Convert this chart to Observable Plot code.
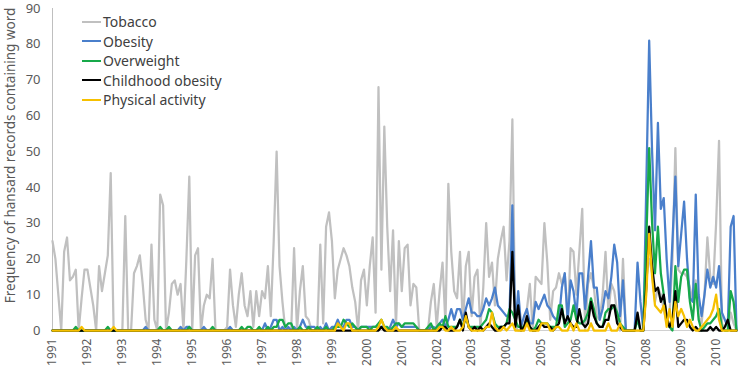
<!DOCTYPE html>
<html><head><meta charset="utf-8">
<script src="https://cdn.jsdelivr.net/npm/d3@7"></script>
<script src="https://cdn.jsdelivr.net/npm/@observablehq/plot@0.6"></script>
<style>
html,body{margin:0;padding:0;background:#fff;}
#chart{position:relative;width:754px;height:375px;font-family:"Noto Sans",sans-serif;}
.legend{position:absolute;left:82px;top:12px;font-size:14px;color:#404040;}
.legend .row{display:flex;align-items:center;height:19.5px;white-space:nowrap}
.legend .sw{display:inline-block;width:19px;height:0;border-top:2px solid;margin-right:2px}
</style></head><body><div id="chart"></div>
<script>
const years = [1991,1992,1993,1994,1995,1996,1997,1998,1999,2000,2001,2002,2003,2004,2005,2006,2007,2008,2009,2010];
const yTicks = [0,10,20,30,40,50,60,70,80,90];
const seriesNames = ["Tobacco","Obesity","Overweight","Childhood obesity","Physical activity"];
const seriesColors = ["#c0c0c0","#4a7fcb","#17a94a","#000000","#f6c000"];
const yLabel = "Frequency of hansard records containing word";

// monthly values, one row per year (Jan 1991 .. Aug 2010)
const tobacco = [
25,20,10,0,22,26,14,15,17,0,9,17,
17,12,7,0,18,11,16,21,44,0,0,0,
0,32,0,0,16,18,21,13,3,0,24,3,
0,38,35,0,5,13,14,10,13,0,20,43,
0,21,23,0,7,10,9,20,0,0,0,0,
1,17,7,1,10,16,7,4,11,1,11,4,
11,9,18,4,25,50,18,8,0,0,0,23,
0,11,18,4,3,0,0,0,24,2,29,33,
25,9,17,20,23,21,18,12,8,0,14,17,
7,18,26,5,68,17,57,29,11,28,1,25,
11,23,24,7,13,12,0,0,0,0,8,13,
1,11,19,2,41,22,11,9,22,1,18,22,
4,15,17,1,12,30,15,19,7,20,25,29,
14,25,59,1,0,0,0,6,13,0,15,14,
13,30,19,3,11,12,16,13,16,2,23,22,
10,22,34,0,13,16,12,4,3,10,22,5,
13,11,5,0,20,0,0,0,0,0,0,0,
20,20,16,8,12,10,6,2,5,20,51,17,
16,16,15,12,8,14,4,2,10,26,15,13,
30,53,2,0,0,5,2,0];

const obesity = [
0,0,0,0,0,0,0,0,0,0,0,0,
0,0,0,0,0,0,0,0,0,0,0,0,
0,0,0,0,0,0,0,0,1,0,0,0,
0,0,0,0,0,0,0,0,1,0,1,1,
0,0,0,0,1,0,0,0,0,0,0,0,
0,1,0,0,0,0,0,0,0,0,0,0,
0,2,0,1,3,3,0,1,0,1,0,1,
0,1,3,1,1,1,1,0,1,0,2,0,
1,1,3,1,1,3,3,1,1,0,1,1,
1,1,1,1,1,1,1,0,1,3,1,2,
1,1,1,1,1,1,0,0,0,0,1,1,
0,2,3,1,3,6,3,6,6,3,6,9,
5,5,4,4,6,9,7,9,12,7,6,5,
4,4,35,1,11,1,4,6,2,2,8,6,
8,10,7,6,4,3,3,12,16,3,14,11,
4,16,16,6,15,25,12,12,3,6,11,9,
15,24,19,4,14,0,0,0,0,19,8,0,
40,81,50,28,58,34,37,20,8,25,43,18,
27,36,20,9,8,38,10,4,10,17,12,15,
12,18,5,3,1,29,32,0];

const overweight = [
0,0,0,0,0,0,0,0,1,0,0,0,
0,0,0,0,0,0,0,1,0,0,0,0,
0,0,0,0,0,0,0,0,0,0,0,0,
0,1,0,0,1,0,0,0,0,0,0,1,
0,0,0,0,0,0,0,1,0,0,0,0,
0,0,0,0,0,1,0,1,1,0,0,1,
0,0,1,0,1,1,3,3,1,2,2,0,
0,1,0,0,1,0,0,1,0,0,1,0,
0,1,1,1,3,2,1,2,1,0,1,1,
1,0,1,1,2,3,1,1,0,1,2,2,
1,2,2,2,2,1,0,0,0,1,2,0,
1,2,1,4,1,1,1,1,3,1,4,1,
1,1,1,1,2,3,6,5,2,1,1,1,
2,6,5,3,1,1,1,3,1,0,1,3,
2,2,2,1,1,1,7,7,1,2,3,7,
3,2,2,3,5,9,6,2,1,1,5,6,
6,7,5,2,1,0,0,0,0,3,0,0,
25,51,30,16,29,16,10,3,1,0,18,8,
15,17,17,8,3,13,3,0,1,2,2,3,
4,6,1,0,0,11,8,0];

const childhood = [
0,0,0,0,0,0,0,0,0,0,0,0,
0,0,0,0,0,0,0,0,0,0,0,0,
0,0,0,0,0,0,0,0,0,0,0,0,
0,0,0,0,0,0,0,0,0,0,0,0,
0,0,0,0,0,0,0,0,0,0,0,0,
0,0,0,0,0,0,0,0,0,0,0,0,
0,0,0,0,0,0,0,0,0,0,0,0,
0,0,0,0,0,0,0,0,0,0,0,0,
0,0,0,0,0,0,0,0,0,0,0,0,
0,0,0,0,0,1,0,0,0,0,0,0,
0,0,0,0,0,0,0,0,0,0,0,0,
0,0,1,1,0,0,0,1,3,0,5,1,
0,1,0,1,0,1,2,1,0,0,1,1,
2,2,22,1,7,0,1,4,1,0,0,1,
2,1,1,1,0,1,2,6,2,4,2,1,
1,6,2,1,2,8,4,2,1,1,3,3,
7,7,2,1,0,0,0,0,0,5,0,0,
12,29,18,11,12,8,10,4,1,3,11,1,
2,3,3,1,0,1,0,0,0,0,1,0,
1,0,0,1,3,0,0,0];

const physical = [
0,0,0,0,0,0,0,0,0,0,1,0,
0,0,0,0,0,0,0,0,0,1,0,0,
0,0,0,0,0,0,0,0,0,0,0,0,
0,0,0,0,0,0,0,0,0,0,0,0,
0,0,0,0,0,0,0,0,0,0,0,0,
0,0,0,0,0,0,0,0,0,0,0,0,
0,0,0,0,0,0,0,0,0,0,0,0,
0,0,0,0,0,0,0,0,0,0,0,0,
0,0,2,1,0,2,2,0,0,0,0,0,
0,0,0,0,1,3,1,0,0,0,1,0,
0,0,0,0,0,0,0,0,0,0,0,0,
0,1,1,0,0,1,0,0,0,1,4,1,
0,0,0,0,0,1,1,5,1,0,0,1,
0,1,2,0,0,0,0,2,0,0,0,0,
2,2,2,0,0,1,1,0,0,0,2,0,
2,0,0,0,0,2,0,0,0,0,0,2,
0,0,0,2,0,0,0,0,0,0,0,0,
10,27,15,7,6,5,7,1,6,1,8,4,
6,4,1,3,1,0,0,1,2,3,4,6,
10,3,0,0,0,0,0,0];

const seriesValues = [tobacco, obesity, overweight, childhood, physical];
const rows = seriesValues.flatMap((arr, s) => arr.map((v, i) => ({month: i, value: v, series: seriesNames[s]})));

const plot = Plot.plot({
  width: 754, height: 375,
  marginLeft: 52, marginRight: 18, marginTop: 8, marginBottom: 45,
  style: {fontFamily: "Noto Sans, sans-serif", fontSize: "12px", color: "#595959", background: "#fff"},
  x: {domain: [0, tobacco.length - 1], label: null},
  y: {domain: [0, 90], label: null},
  color: {domain: seriesNames, range: seriesColors},
  marks: [
    Plot.axisY({ticks: yTicks, tickSize: 0, tickPadding: 12, fontSize: 13, label: null}),
    Plot.axisX({ticks: years.map((y, i) => i * 12), tickFormat: d => String(years[d / 12]), tickRotate: -90, tickSize: 0, tickPadding: 8, fontSize: 12, label: null}),
    Plot.ruleX([0], {stroke: "#bfbfbf", strokeWidth: 1}),
    Plot.ruleY([0], {stroke: "#d0d0d0", strokeWidth: 1}),
    ...seriesNames.map(name => Plot.line(rows.filter(r => r.series === name), {x: "month", y: "value", stroke: "series", strokeWidth: 2.25, strokeLinejoin: "round"})),
    Plot.text([yLabel], {frameAnchor: "left", textAnchor: "middle", rotate: -90, dx: -42, dy: -14, fontSize: 13.5, fill: "#595959"})
  ]
});
const chart = document.getElementById("chart");
chart.appendChild(plot);
const legend = document.createElement("div");
legend.className = "legend";
seriesNames.forEach((n, i) => {
  const row = document.createElement("div");
  row.className = "row";
  const sw = document.createElement("span");
  sw.className = "sw";
  sw.style.borderTopColor = seriesColors[i];
  row.appendChild(sw);
  row.appendChild(document.createTextNode(n));
  legend.appendChild(row);
});
chart.appendChild(legend);
</script></body></html>
